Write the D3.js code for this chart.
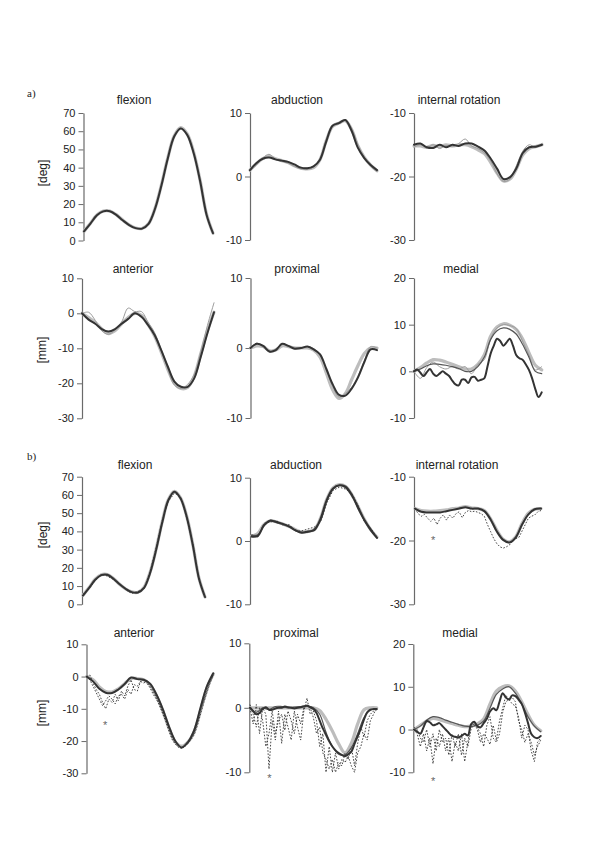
<!DOCTYPE html>
<html><head><meta charset="utf-8">
<script src="https://cdn.jsdelivr.net/npm/d3@7"></script>
<style>
html,body{margin:0;padding:0;background:#fff;}
svg{display:block;}
</style></head>
<body>
<svg id="chart" width="600" height="849"></svg>
<script>
// ---------- tick labels ----------
const flexTicks = [0, 10, 20, 30, 40, 50, 60, 70];
const abdTicks = [-10, 0, 10];
const irTicks = [-30, -20, -10];
const antTicks = [-30, -20, -10, 0, 10];
const proxTicks = [-10, 0, 10];
const medTicks = [-10, 0, 10, 20];

// ---------- data (% of cycle, evenly spaced from 0 to 100) ----------
// a) flexion
const aFlexGrayThick = [5, 9.5, 14, 16.2, 16.2, 14.2, 11.2, 8.6, 6.9, 6.6, 9.2, 17.5, 30.5, 45.5, 57.5, 62, 58.5, 48.5, 33, 14.5, 4];
const aFlexGrayThin  = [5.2, 9.7, 14.2, 16.4, 16.0, 14.0, 11.0, 8.4, 6.8, 6.5, 9.0, 17.2, 30, 45, 57, 61.7, 58.2, 48, 32.5, 14, 3.8];
const aFlexDarkThick = [5, 9.3, 13.8, 16, 16.1, 14.1, 11.1, 8.5, 6.8, 6.5, 9.1, 17.3, 30.2, 45.2, 57.2, 61.5, 58, 48, 32.7, 14.2, 4];
// a) abduction
const aAbdGrayThick = [1.0, 2.0, 2.8, 3.2, 2.8, 2.5, 2.2, 1.7, 1.3, 1.2, 1.4, 2.6, 5.6, 7.9, 8.4, 8.8, 7.4, 4.8, 3.0, 1.8, 0.9];
const aAbdGrayThin  = [0.9, 1.8, 2.9, 3.5, 2.7, 2.4, 2.1, 1.6, 1.2, 1.1, 1.5, 2.8, 5.8, 8.1, 8.5, 8.9, 7.6, 5.0, 3.0, 1.6, 0.8];
const aAbdDarkThick = [1.0, 2.1, 2.8, 3.0, 2.7, 2.5, 2.3, 1.9, 1.4, 1.3, 1.6, 2.6, 5.5, 8.0, 8.4, 8.9, 7.2, 4.5, 2.9, 1.8, 1.0];
// a) internal rotation
const aIrGrayThick = [-15.2, -15.2, -15.4, -15.1, -15.3, -15.0, -15.2, -15.0, -15.0, -15.3, -15.8, -16.4, -17.8, -19.5, -20.7, -20.4, -18.8, -16.6, -15.6, -15.3, -15.0];
const aIrGrayThin  = [-15.4, -15.0, -15.5, -15.0, -15.6, -15.1, -15.3, -14.8, -14.1, -15.2, -15.6, -16.3, -17.6, -19.6, -20.8, -20.4, -18.3, -16.0, -15.0, -15.4, -14.8];
const aIrDarkThick = [-15.0, -14.8, -15.4, -15.5, -15.0, -15.4, -15.0, -15.2, -14.8, -14.8, -15.3, -15.9, -17.2, -18.8, -20.4, -20.1, -18.7, -16.3, -15.4, -15.3, -15.0];
// a) anterior
const aAntGrayThick = [0, -1.2, -2.6, -4.5, -5.8, -5.0, -3.0, -1.2, 0, -0.6, -3.2, -6.5, -11, -16, -20, -21.5, -21.2, -18, -11.5, -5, 0.3];
const aAntGrayThin  = [0, 0.3, -2.0, -5.0, -6.0, -4.8, -2.5, 1.5, 0.5, 0.5, -2.5, -5.5, -10.5, -16, -20.5, -21.5, -20.3, -17.5, -11.0, -3.5, 3.0];
const aAntDarkThick = [0, -1.8, -3.0, -4.5, -5.2, -4.5, -3.0, -1.6, 0, -1.0, -3.3, -6.2, -10.5, -15.2, -19.5, -21.0, -21.0, -18.6, -12.4, -5.7, 0.3];
// a) proximal
const aProxGrayThick = [0, 0.3, 0.2, -0.4, -0.3, 0.3, 0.2, 0, 0, 0, -0.3, -1.3, -3.6, -6.0, -7.2, -6.5, -4.5, -2.5, -0.8, 0, 0];
const aProxGrayThin  = [0, 0.7, 0.1, -0.6, -0.1, 0.5, 0.2, 0.1, 0, 0.2, -0.1, -1.0, -3.2, -5.5, -7.0, -6.5, -5.6, -4.0, -1.8, 0.2, 0];
const aProxDarkThick = [0, 0.6, 0.3, -0.5, -0.3, 0.6, 0.3, -0.1, 0, 0.2, -0.2, -0.9, -3.0, -5.2, -6.7, -6.8, -5.8, -4.2, -2.0, -0.2, -0.3];
// a) medial
const aMedGrayThick = [0, 0.8, 1.8, 2.5, 2.4, 2.0, 1.5, 1.0, 0.5, 0.5, 1.5, 3.5, 7.5, 9.5, 10.2, 9.9, 9.0, 7.0, 4.0, 1.3, 0.3];
const aMedGrayThin  = [0, -1.5, 0.8, 2.0, 1.0, 0.5, 1.0, 0.5, 1.0, -0.5, 1.5, 2.5, 7.0, 9.3, 10.0, 9.8, 9.2, 6.5, 3.5, 0.3, 1.0];
const aMedDarkThin  = [0, 0.5, 1.2, 1.6, 1.5, 1.3, 1.0, 0.6, 0, 0, 1.0, 3.0, 6.8, 8.7, 9.3, 9.0, 8.0, 5.8, 3.0, 0, -0.5];
const aMedDarkThick = [0, 0.4, -0.3, -1, -0.2, 0.5, -0.5, -1, -0.5, 0, -0.5, -1, -2, -2.8, -3, -1.8, -1.8, -2.5, -1.3, -1.2, -2, -1.8, -1.5, 1, 3.8, 5.5, 7, 6.5, 5.5, 6.2, 7, 5.5, 3.5, 2.8, 2.5, 1.5, 0.3, -1.5, -3.8, -5.5, -4.5];

// b) flexion
const bFlexGrayThick = [5, 9.2, 13.8, 16.2, 16.3, 14.2, 11, 8.4, 6.8, 6.6, 9.3, 17.6, 30.5, 45.5, 57.5, 62, 58.3, 48.3, 32.8, 14.5, 4];
const bFlexDarkThick = [4.8, 9, 13.5, 16, 16.2, 14, 11, 8.5, 6.7, 6.5, 9, 17.2, 30, 45, 57.2, 61.8, 58, 48, 32.5, 14.3, 4];
const bFlexDotted    = [5.5, 8.5, 13, 16.5, 15.5, 13.5, 11.5, 8.0, 6.0, 7.0, 8.5, 17.8, 31, 46, 56.5, 61, 58.8, 47.5, 33.5, 13.5, 4.2];
// b) abduction
const bAbdGrayThick = [0.8, 1.2, 2.6, 3.2, 3.0, 2.7, 2.3, 1.8, 1.4, 1.5, 1.8, 3.6, 6.6, 8.4, 8.9, 8.6, 7.3, 5.4, 3.4, 1.8, 0.6];
const bAbdDarkThin  = [0.9, 1.0, 2.4, 3.3, 2.9, 2.6, 2.2, 1.7, 1.4, 1.4, 1.9, 3.2, 6.3, 8.2, 8.8, 8.7, 7.4, 5.0, 3.2, 1.6, 0.5];
const bAbdDarkThick = [0.7, 0.8, 2.5, 3.2, 3.0, 2.7, 2.3, 1.7, 1.3, 1.5, 1.7, 3.5, 6.5, 8.3, 8.8, 8.5, 7.2, 5.3, 3.3, 1.8, 0.5];
const bAbdDotted    = [1.0, 0.6, 2.8, 3.0, 3.2, 2.5, 2.6, 1.6, 1.6, 1.9, 2.2, 3.0, 6.0, 8.0, 8.5, 8.2, 7.5, 5.6, 3.0, 2.0, 0.6];
// b) internal rotation
const bIrGrayThick = [-15.0, -15.3, -15.4, -15.4, -15.3, -15.2, -15.0, -14.9, -14.7, -14.9, -15.0, -15.3, -16.6, -18.4, -19.8, -20.2, -19.4, -17.3, -15.7, -15.1, -15.0];
const bIrDarkThick = [-15.0, -15.5, -15.6, -15.6, -15.6, -15.4, -15.2, -15.0, -14.8, -15.0, -15.0, -15.4, -16.7, -18.6, -19.9, -20.3, -19.5, -17.5, -15.9, -15.1, -15.0];
const bIrDotted = [-15, -15.8, -16.2, -15.9, -16.5, -17, -16.5, -17.5, -16.5, -16, -16.8, -16, -16.5, -15.8, -15.5, -16.4, -15.6, -15.3, -15.5, -15.4, -15.6, -15.8, -16.2, -17.5, -18.6, -19.7, -20.5, -21, -21.2, -21, -20.7, -20, -19.7, -19.5, -18.5, -17.5, -16.5, -16.2, -16, -15.5, -15.3];
// b) anterior
const bAntGrayThick = [0, -1.0, -3.2, -4.6, -4.8, -3.8, -2.2, -0.6, -0.6, -1.0, -2.5, -6.0, -10.5, -16.0, -20.3, -21.6, -20.3, -17.0, -10.5, -3.5, 0.8];
const bAntDarkThick = [0, -1.5, -3.8, -5, -5.1, -4, -2.3, -0.3, -0.8, -1, -2.2, -5.5, -10, -15.5, -20, -22, -20.3, -16.5, -9.5, -3, 1];
const bAntDotted1 = [0, 0.5, -2, -4, -5.5, -8, -10, -7, -8, -5.5, -7.5, -4.5, -6, -3, -1, -4, -4.5, -1.5, -1, -2, -3.5, -5.5, -7, -9, -11.5, -14, -17, -19.5, -21, -22, -22.3, -21.5, -20.5, -19, -17.5, -14, -10.5, -7.5, -4.5, -1.5, 0.5];
const bAntDotted2 = [0, -1, -3, -5, -7, -9, -7.5, -6, -7, -8.5, -6, -5.5, -7, -4, -5.5, -2.5, -3, -1.5, -2, -1.5, -3, -4.5, -6.5, -8.5, -11, -13.5, -16, -19, -20.5, -21.5, -22, -21.7, -20.8, -19.5, -18, -15, -11.5, -8, -5, -2, 0.5];
// b) proximal
const bProxGrayThick = [0, 0, 0, 0, 0, 0, 0, 0, 0, 0, 0, -0.4, -1.8, -3.6, -5.6, -7, -5.5, -2.5, -0.3, 0, 0];
const bProxDarkThin  = [0, -0.7, 0, -0.3, 0.2, 0.2, 0, 0.1, 0.2, 0.3, 0, -1.0, -3.8, -6.0, -7.2, -7.3, -6.2, -4.0, -1.5, -0.3, -0.3];
const bProxDarkThick = [0, -0.5, -1, -0.8, -0.2, 0.1, -0.3, -0.3, -0.1, 0, 0, 0.2, 0.1, 0, -0.1, 0, 0.1, 0.2, 0.3, 0.1, -0.2, -0.8, -2, -3.2, -4.2, -5.2, -6, -6.6, -7, -7.3, -7.5, -7.2, -6.8, -5.6, -4.4, -3.2, -1.8, -0.7, -0.3, -0.2, -0.2];
const bProxDotted1 = [0, -2.5, 0.5, -4, 0, -1, -9.5, -2, -5, -0.5, -5.5, -1, -3, -5, -0.5, -3, -5, -0.5, 1.5, -1, -0.5, -2, -6, -4, -10, -6, -10, -7, -9.5, -8, -8.5, -7.5, -9, -10, -7, -6, -4, -5, -2, -1, 0];
const bProxDotted2 = [0.5, -1, -3, 0, -2, -6, -4, -0.5, -4, -2, -1, -3.5, -0.5, -2, -4, -1, -2.5, 0, 0.5, 0, -1.5, -4, -3, -7, -8, -9.5, -8, -10, -8.5, -9, -7, -8, -6, -9, -5.5, -3, -4.5, -2, -1, -0.5, -0.3];
// b) medial
const bMedGrayThick = [0, 1, 2, 2.6, 2.3, 1.8, 1.4, 1.0, 0.7, 0.8, 1.3, 2.5, 6, 9, 10, 10.2, 9, 6.5, 3.5, 1, -0.3];
const bMedDarkThin  = [0, 0.8, 2.2, 3.0, 2.8, 2.2, 1.7, 1.2, 0.8, 0.7, 1.0, 2.0, 5.0, 8.2, 9.5, 10.0, 8.5, 6.0, 3.0, 0.8, -0.5];
const bMedDarkThick = [0, -0.5, -1, 0.5, 2, 1.7, 1, 1.2, 1.5, 0.8, 0, -0.8, -1.5, -1.7, -1.8, -1.5, -1, -1.4, 1.2, 1.8, 0.8, 0.5, 1.5, 2.5, 4.2, 5, 4.5, 6.5, 8.5, 7.5, 7, 8, 7.8, 7, 6, 4, 1.5, -1, -1.8, -2, -1.5];
const bMedDotted1 = [0, -1, -4, -1, -5, -2, -8, -2, -4, -1, -5, -2, -7.5, -3, -5, -1, -7.5, -3, 1.5, 1, 0.5, -1, -4, 1, 3, -2, -3, -1, 4, 6.5, 7, 6, 5.5, 3, -2, 1, 0, -5, -7.5, -3, -2];
const bMedDotted2 = [0.5, 0, -2, -3, 0, -4, -1, -5, 0, -3, -2, -6, -1, -4, -1, -6, -2, -4, 0, 1.5, 0, -3, -1, -2, -3.5, 1, -2.5, 2, 5, 8, 7, 7.5, 6.5, 2, 0, -3, -1, -3, -6, -4, -2.5];

// significance markers [% cycle, value]
const bIrStar = [14.4, -19.6];
const bAntStar = [14.5, -14.4];
const bProxStar = [15.4, -10.6];
const bMedStar = [15.2, -11.6];

// ---------- styles ----------
const styles = {
  grayThick: {stroke: "#bdbdbd", width: 3.2, dash: null, curve: d3.curveCatmullRom},
  grayThin:  {stroke: "#9c9c9c", width: 1.0, dash: null, curve: d3.curveCatmullRom},
  darkThin:  {stroke: "#555", width: 1.2, dash: null, curve: d3.curveCatmullRom},
  darkThick: {stroke: "#333", width: 2.0, dash: null, curve: d3.curveCatmullRom},
  dotted:    {stroke: "#333", width: 0.9, dash: "1.6,1.6", curve: d3.curveLinear}
};

// ---------- layout ----------
const panels = [
  {title: "flexion", titleX: 134, titleY: 104, ticks: flexTicks, axisX: 83.5, x0: 84, x1: 213, y0: 113, y1: 240.5,
   series: [[aFlexGrayThick, "grayThick"], [aFlexGrayThin, "grayThin"], [aFlexDarkThick, "darkThick"]]},
  {title: "abduction", titleX: 297, titleY: 104, ticks: abdTicks, axisX: 250, x0: 250, x1: 377, y0: 113, y1: 240,
   series: [[aAbdGrayThick, "grayThick"], [aAbdGrayThin, "grayThin"], [aAbdDarkThick, "darkThick"]]},
  {title: "internal rotation", titleX: 459, titleY: 104, ticks: irTicks, axisX: 414, x0: 414, x1: 542, y0: 113, y1: 240,
   series: [[aIrGrayThick, "grayThick"], [aIrGrayThin, "grayThin"], [aIrDarkThick, "darkThick"]]},
  {title: "anterior", titleX: 133, titleY: 273, ticks: antTicks, axisX: 82, x0: 82, x1: 214, y0: 278.3, y1: 418.3,
   series: [[aAntGrayThick, "grayThick"], [aAntGrayThin, "grayThin"], [aAntDarkThick, "darkThick"]]},
  {title: "proximal", titleX: 297, titleY: 273, ticks: proxTicks, axisX: 250.5, x0: 250.5, x1: 377, y0: 278, y1: 418,
   series: [[aProxGrayThick, "grayThick"], [aProxGrayThin, "grayThin"], [aProxDarkThick, "darkThick"]]},
  {title: "medial", titleX: 461, titleY: 273, ticks: medTicks, axisX: 414, x0: 414, x1: 541.7, y0: 278, y1: 418,
   series: [[aMedGrayThick, "grayThick"], [aMedGrayThin, "grayThin"], [aMedDarkThin, "darkThin"], [aMedDarkThick, "darkThick"]]},
  {title: "flexion", titleX: 135, titleY: 469, ticks: flexTicks, axisX: 82, x0: 83, x1: 205, y0: 476.7, y1: 604.3,
   series: [[bFlexGrayThick, "grayThick"], [bFlexDotted, "dotted"], [bFlexDarkThick, "darkThick"]]},
  {title: "abduction", titleX: 296, titleY: 469, ticks: abdTicks, axisX: 250, x0: 251.5, x1: 377, y0: 477.7, y1: 604.3,
   series: [[bAbdGrayThick, "grayThick"], [bAbdDotted, "dotted"], [bAbdDarkThin, "darkThin"], [bAbdDarkThick, "darkThick"]]},
  {title: "internal rotation", titleX: 457, titleY: 469, ticks: irTicks, axisX: 414, x0: 415, x1: 541, y0: 476.7, y1: 604.3,
   series: [[bIrGrayThick, "grayThick"], [bIrDotted, "dotted"], [bIrDarkThick, "darkThick"]], star: bIrStar},
  {title: "anterior", titleX: 134, titleY: 637, ticks: antTicks, axisX: 86.5, x0: 86.7, x1: 213.3, y0: 644.3, y1: 773.3,
   series: [[bAntGrayThick, "grayThick"], [bAntDotted1, "dotted"], [bAntDotted2, "dotted"], [bAntDarkThick, "darkThick"]], star: bAntStar},
  {title: "proximal", titleX: 296, titleY: 637, ticks: proxTicks, axisX: 249.3, x0: 250, x1: 376.7, y0: 643.3, y1: 772.3,
   series: [[bProxGrayThick, "grayThick"], [bProxDotted1, "dotted"], [bProxDotted2, "dotted"], [bProxDarkThin, "darkThin"], [bProxDarkThick, "darkThick"]], star: bProxStar},
  {title: "medial", titleX: 460, titleY: 637, ticks: medTicks, axisX: 413.3, x0: 414, x1: 540.7, y0: 644, y1: 772.3,
   series: [[bMedGrayThick, "grayThick"], [bMedDotted1, "dotted"], [bMedDotted2, "dotted"], [bMedDarkThin, "darkThin"], [bMedDarkThick, "darkThick"]], star: bMedStar}
];

const svg = d3.select("#chart");
const font = "'Liberation Sans', Arial, Helvetica, sans-serif";

panels.forEach(p => {
  const dom = d3.extent(p.ticks);
  const y = d3.scaleLinear().domain(dom).range([p.y1, p.y0]);
  const x = d3.scaleLinear().domain([0, 100]).range([p.x0, p.x1]);
  const g = svg.append("g");

  // axis (hyphen-minus labels as in the original)
  const ax = g.append("g").attr("transform", `translate(${p.axisX},0)`)
    .call(d3.axisLeft(y).tickValues(p.ticks).tickSize(5).tickSizeOuter(0).tickPadding(3).tickFormat(d => String(d)));
  ax.select(".domain").attr("stroke", "#6a6a6a").attr("stroke-width", 1.2);
  ax.selectAll(".tick line").attr("stroke", "#6a6a6a").attr("stroke-width", 1);
  ax.selectAll(".tick text").attr("font-family", font).attr("font-size", 11).attr("fill", "#222");

  // title
  g.append("text").attr("x", p.titleX).attr("y", p.titleY).attr("text-anchor", "middle")
    .attr("font-family", font).attr("font-size", 12).attr("fill", "#222").text(p.title);

  // series
  p.series.forEach(([vals, sty]) => {
    const st = styles[sty];
    const n = vals.length;
    const line = d3.line().x((d, i) => x(i * 100 / (n - 1))).y(d => y(d)).curve(st.curve);
    g.append("path").datum(vals).attr("d", line).attr("fill", "none")
      .attr("stroke", st.stroke).attr("stroke-width", st.width)
      .attr("stroke-linejoin", "round").attr("stroke-linecap", sty === "dotted" ? "butt" : "round")
      .attr("stroke-dasharray", st.dash);
  });

  if (p.star) {
    g.append("text").attr("x", x(p.star[0])).attr("y", y(p.star[1]) + 6).attr("text-anchor", "middle")
      .attr("font-family", font).attr("font-size", 11).attr("fill", "#666").text("*");
  }
});

// panel group labels
svg.append("text").attr("x", 27).attr("y", 97).attr("font-family", "'Liberation Serif', 'Times New Roman', serif")
  .attr("font-size", 11).attr("fill", "#222").text("a)");
svg.append("text").attr("x", 27).attr("y", 460).attr("font-family", "'Liberation Serif', 'Times New Roman', serif")
  .attr("font-size", 11).attr("fill", "#222").text("b)");

// unit labels
const unitLabels = [["[deg]", 47, 173], ["[mm]", 46, 350], ["[deg]", 47, 535], ["[mm]", 46, 713]];
unitLabels.forEach(([t, lx, ly]) => {
  svg.append("text").attr("transform", `translate(${lx},${ly}) rotate(-90)`).attr("text-anchor", "middle")
    .attr("font-family", font).attr("font-size", 12).attr("fill", "#222").text(t);
});
</script>
</body></html>
